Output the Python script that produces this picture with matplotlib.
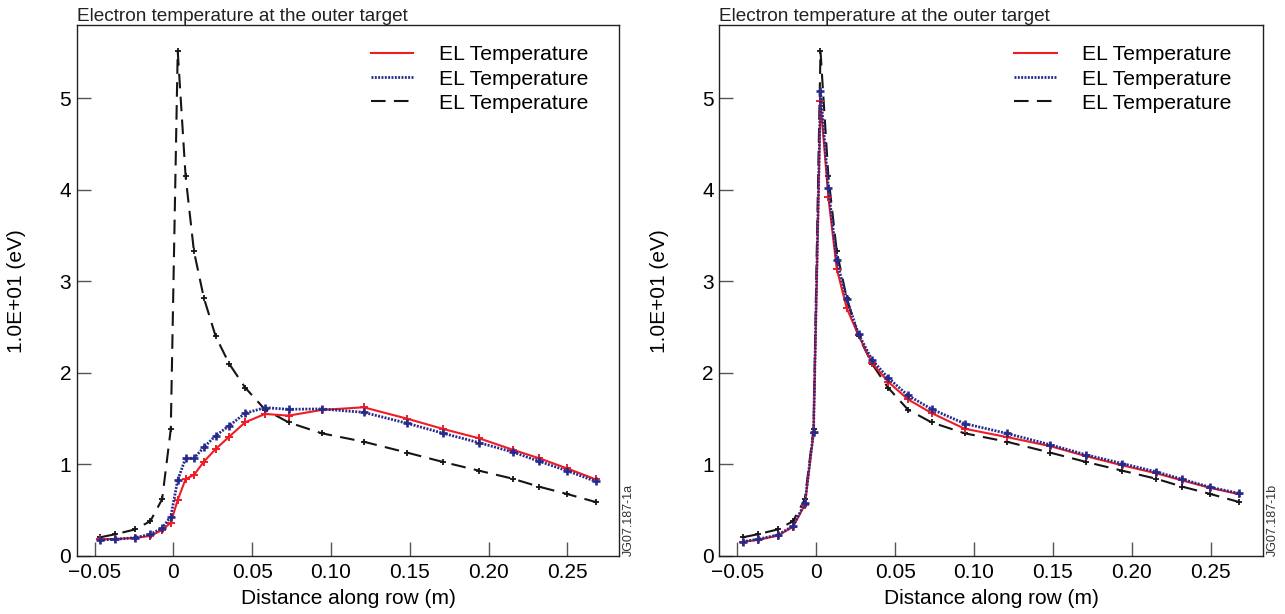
import matplotlib
matplotlib.use("Agg")
import matplotlib.pyplot as plt
from matplotlib.lines import Line2D

# distance along row (m), shared grid for all curves
DIST = [-0.0466, -0.0371, -0.0244, -0.0147, -0.0072, -0.0017, 0.0027, 0.0077,
        0.0130, 0.0193, 0.0268, 0.0354, 0.0455, 0.0581, 0.0731, 0.0940,
        0.1207, 0.1484, 0.1712, 0.1940, 0.2152, 0.2321, 0.2497, 0.2679]

# reference case (black dashed), same in both panels
TE_BLACK = [0.204, 0.237, 0.290, 0.380, 0.620, 1.385, 5.52, 4.15,
            3.33, 2.82, 2.40, 2.10, 1.84, 1.60, 1.46, 1.341,
            1.249, 1.129, 1.027, 0.932, 0.845, 0.757, 0.678, 0.590]

# panel a
TE_RED_A = [0.182, 0.186, 0.197, 0.219, 0.284, 0.364, 0.612, 0.841,
            0.885, 1.031, 1.169, 1.304, 1.461, 1.552, 1.534, 1.596,
            1.625, 1.500, 1.388, 1.286, 1.162, 1.068, 0.958, 0.838]
TE_BLUE_A = [0.175, 0.182, 0.200, 0.237, 0.303, 0.430, 0.830, 1.068,
             1.068, 1.188, 1.315, 1.424, 1.560, 1.621, 1.603, 1.607,
             1.570, 1.450, 1.341, 1.238, 1.137, 1.035, 0.932, 0.816]

# panel b
TE_RED_B = [0.155, 0.175, 0.222, 0.318, 0.560, 1.340, 4.97, 3.92,
            3.14, 2.71, 2.41, 2.11, 1.905, 1.712, 1.562, 1.391,
            1.300, 1.200, 1.090, 0.990, 0.905, 0.825, 0.745, 0.675]
TE_BLUE_B = [0.157, 0.182, 0.230, 0.328, 0.576, 1.360, 5.085, 4.02,
             3.23, 2.805, 2.426, 2.142, 1.948, 1.755, 1.605, 1.447,
             1.340, 1.215, 1.105, 1.010, 0.921, 0.838, 0.751, 0.685]

X_TICKS = [-0.05, 0, 0.05, 0.10, 0.15, 0.20, 0.25]
X_TICKLABELS = ["\u22120.05", "0", "0.05", "0.10", "0.15", "0.20", "0.25"]
Y_TICKS = [0, 1, 2, 3, 4, 5]
LEGEND_LABELS = ["EL Temperature", "EL Temperature", "EL Temperature"]
TITLE = "Electron temperature at the outer target"
TAGS = ["JG07.187-1a", "JG07.187-1b"]

RED = "#f01c24"
BLUE = "#262a8c"
BLACK = "#151515"
BLUE_DOTS = (0.7, 0.5)
BLACK_DASHES = (7, 4)

plt.rcParams["font.family"] = ["Liberation Sans", "DejaVu Sans"]


def draw_panel(ax, red, blue, tag):
    ax.plot(DIST, TE_BLACK, color=BLACK, lw=1.5, dashes=BLACK_DASHES, marker="+",
            ms=5, mew=1.3, zorder=2)
    ax.plot(DIST, red, color=RED, lw=1.5, marker="+", ms=5.5, mew=1.4, zorder=3)
    ax.plot(DIST, blue, color=BLUE, lw=2.0, dashes=BLUE_DOTS, marker="+",
            ms=6, mew=1.9, zorder=4)

    ax.set_xlim(-0.0614, 0.283)
    ax.set_ylim(0, 5.80)
    ax.set_xticks(X_TICKS)
    ax.set_xticklabels(X_TICKLABELS)
    ax.set_yticks(Y_TICKS)
    ax.tick_params(direction="in", length=10, width=1, color="#555555",
                   labelsize=15, top=False, right=False)
    ax.tick_params(axis="x", pad=5)
    ax.tick_params(axis="y", pad=4)
    for sp in ax.spines.values():
        sp.set_linewidth(1.0)
        sp.set_color("#222222")

    ax.set_xlabel("Distance along row (m)", fontsize=15, labelpad=5)
    ax.set_ylabel("1.0E+01 (eV)", fontsize=15, labelpad=24)
    ax.set_title(TITLE, loc="left", fontsize=13.7, pad=3, color="#222222")

    handles = [
        Line2D([], [], color=RED, lw=1.5),
        Line2D([], [], color=BLUE, lw=2.0, dashes=BLUE_DOTS),
        Line2D([], [], color=BLACK, lw=1.5, dashes=BLACK_DASHES),
    ]
    ax.legend(handles, LEGEND_LABELS, loc="upper right",
              bbox_to_anchor=(0.942, 0.962), frameon=False, fontsize=15.2,
              handlelength=2.0, handletextpad=1.2, labelspacing=0.24,
              borderpad=0, borderaxespad=0)

    ax.text(1.018, 0.0, tag, transform=ax.transAxes, rotation=90,
            ha="center", va="bottom", fontsize=9, color="#333333")


fig = plt.figure(figsize=(12.85, 6.14), dpi=100)
ax_a = fig.add_axes([0.0597, 0.0945, 0.4223, 0.8643])
ax_b = fig.add_axes([0.5598, 0.0945, 0.4229, 0.8643])

draw_panel(ax_a, TE_RED_A, TE_BLUE_A, TAGS[0])
draw_panel(ax_b, TE_RED_B, TE_BLUE_B, TAGS[1])

fig.savefig("out.png", dpi=100)
